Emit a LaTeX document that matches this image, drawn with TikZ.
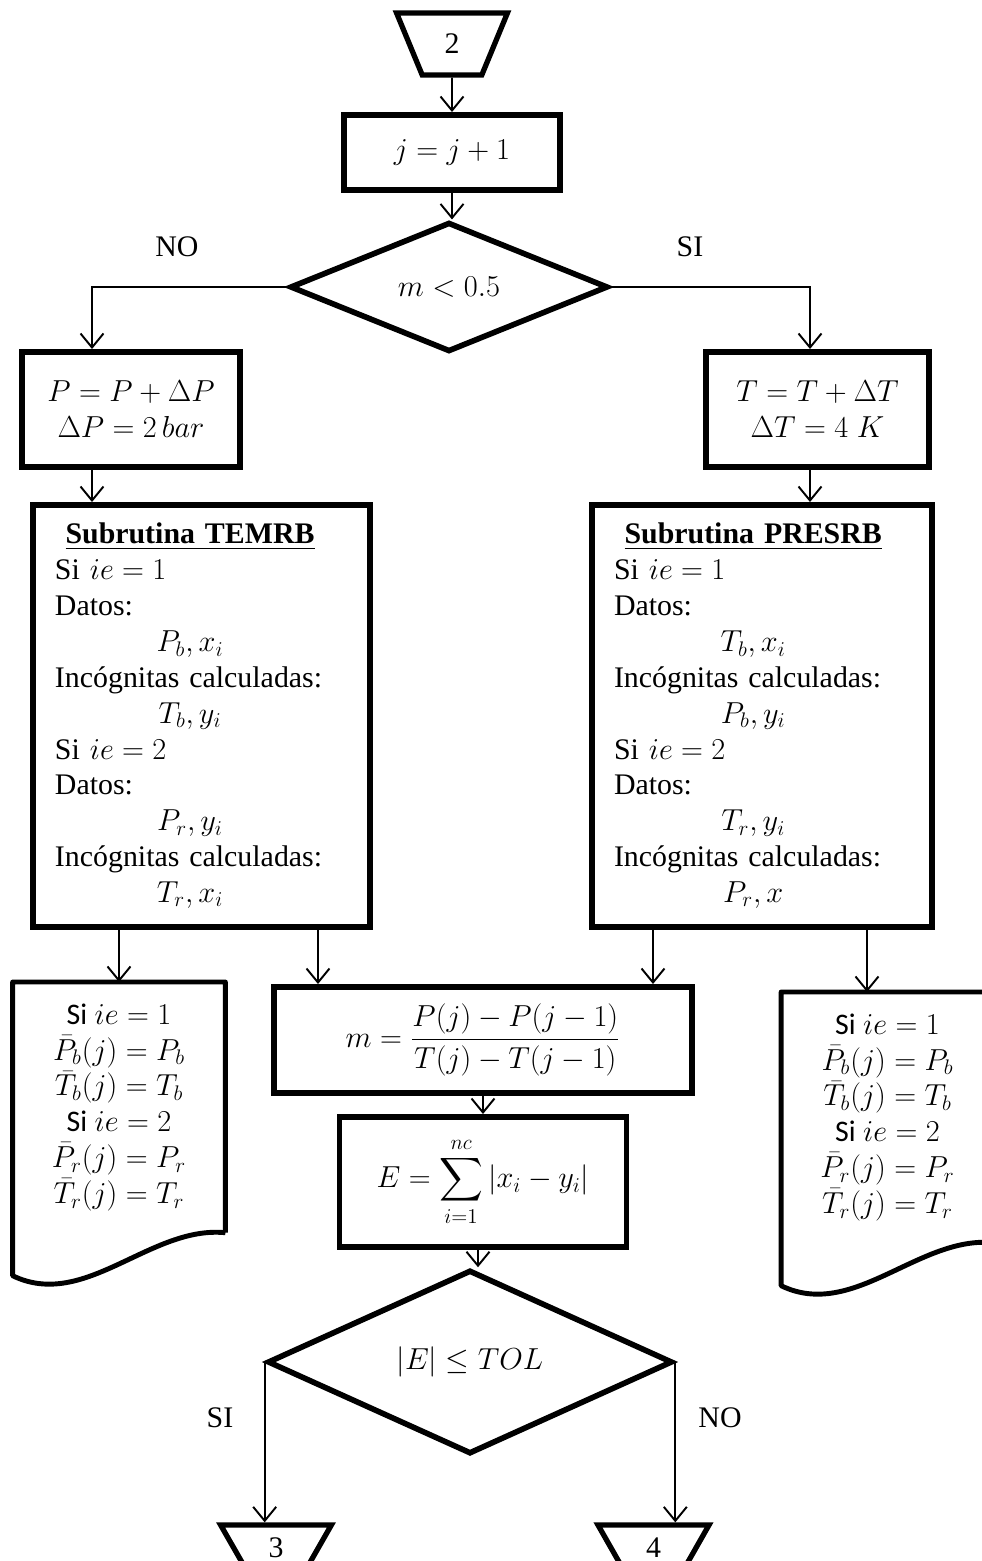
\documentclass[tikz,border=0pt]{standalone}
\usepackage{amsmath}
\usepackage{fontspec}
\setmainfont{Liberation Serif}
\newfontfamily\calibri{Carlito}
\usetikzlibrary{shapes.geometric, arrows.meta, positioning}

\begin{document}
\begin{tikzpicture}[
    every node/.style={font=\fontsize{17}{20.4}\selectfont},
    box/.style={rectangle, draw, line width=3.4pt, align=center},
    subbox/.style={rectangle, draw, line width=3.4pt, align=left, text width=5.86cm, inner xsep=0.44cm, minimum height=8.44cm},
    decision/.style={diamond, draw, line width=3.2pt, minimum height=2.46cm, inner sep=1pt},
    conn/.style={trapezium, draw, line width=3pt, trapezium angle=70, shape border rotate=180, trapezium stretches=true, minimum width=2.22cm, minimum height=1.24cm},
    doc/.style={align=center, minimum width=4.24cm, minimum height=5cm, anchor=north},
    docline/.style={line width=2.8pt, line join=round},
    arrow/.style={line width=1.1pt, -{Straight Barb[length=0.28cm, width=0.46cm]}}
]
\useasboundingbox (0,0) rectangle (19.64,-31.22);

% ---- kolom atas ----
\node[conn]                          (c2)    at (9.04,-0.88)  {2};
\node[box, minimum width=4.32cm, minimum height=1.5cm] (jbox) at (9.04,-3.05) {$j = j + 1$};
\node[decision, minimum width=6.36cm] (d1)   at (8.98,-5.74)  {$m < 0.5$};
\node                                (no1)   at (3.54,-4.94)  {NO};
\node                                (si1)   at (13.8,-4.94)  {SI};

% ---- dua cabang ----
\node[box, minimum width=4.36cm, minimum height=2.3cm] (pbox) at (2.62,-8.19)
    {$P = P + \Delta P$\\$\Delta P = 2\,bar$};
\node[box, minimum width=4.46cm, minimum height=2.3cm] (tbox) at (16.35,-8.19)
    {$T = T + \Delta T$\\$\Delta T = 4\;K$};

\node[subbox] (temrb) at (4.03,-14.32) {%
\begin{tabular}{@{}l@{}}
\multicolumn{1}{c}{\textbf{\underline{Subrutina TEMRB}}}\\
Si $ie = 1$\\
Datos:\\
\multicolumn{1}{c}{$P_b, x_i$}\\
Incógnitas calculadas:\\
\multicolumn{1}{c}{$T_b, y_i$}\\
Si $ie = 2$\\
Datos:\\
\multicolumn{1}{c}{$P_r, y_i$}\\
Incógnitas calculadas:\\
\multicolumn{1}{c}{$T_r, x_i$}
\end{tabular}};
\node[subbox, text width=5.92cm] (presrb) at (15.24,-14.32) {%
\begin{tabular}{@{}l@{}}
\multicolumn{1}{c}{\textbf{\underline{Subrutina PRESRB}}}\\
Si $ie = 1$\\
Datos:\\
\multicolumn{1}{c}{$T_b, x_i$}\\
Incógnitas calculadas:\\
\multicolumn{1}{c}{$P_b, y_i$}\\
Si $ie = 2$\\
Datos:\\
\multicolumn{1}{c}{$T_r, y_i$}\\
Incógnitas calculadas:\\
\multicolumn{1}{c}{$P_r, x$}
\end{tabular}};

% ---- dokumen keluaran ----
\node[doc] (docL) at (2.38,-19.64)
    {{\calibri Si} $ie = 1$\\$\bar{P}_b(j) = P_b$\\$\bar{T}_b(j) = T_b$\\{\calibri Si} $ie = 2$\\$\bar{P}_r(j) = P_r$\\$\bar{T}_r(j) = T_r$};
\node[doc] (docR) at (17.75,-19.84)
    {{\calibri Si} $ie = 1$\\$\bar{P}_b(j) = P_b$\\$\bar{T}_b(j) = T_b$\\{\calibri Si} $ie = 2$\\$\bar{P}_r(j) = P_r$\\$\bar{T}_r(j) = T_r$};
\draw[docline] (docL.south east) -- (docL.north east) -- (docL.north west) -- ([yshift=-0.86cm]docL.south west)
    .. controls +(1.44,-0.7) and +(-1.5,0.15) .. (docL.south east);
\draw[docline] (docR.south east) -- (docR.north east) -- (docR.north west) -- ([yshift=-0.86cm]docR.south west)
    .. controls +(1.44,-0.7) and +(-1.5,0.15) .. (docR.south east);

% ---- kolom bawah ----
\node[box, minimum width=8.36cm, minimum height=2.12cm] (mbox) at (9.66,-20.8)
    {$m = \dfrac{P(j) - P(j-1)}{T(j) - T(j-1)}$};
\node[box, minimum width=5.74cm, minimum height=2.6cm] (ebox) at (9.66,-23.64)
    {$\displaystyle E = \sum_{i=1}^{nc} |x_i - y_i|$};
\node[decision, minimum width=8.1cm] (d2) at (9.4,-27.24) {$|E| \leq TOL$};
\node (si2) at (4.4,-28.36)  {SI};
\node (no2) at (14.4,-28.36) {NO};
\node[conn, minimum height=0.9cm] (c3) at (5.52,-30.95)  {3};
\node[conn, minimum height=0.9cm] (c4) at (13.07,-30.95) {4};

% ---- alur ----
\draw[arrow] (c2) -- (jbox);
\draw[arrow] (jbox) -- (jbox |- d1.north);
\draw[arrow] (d1.west) -| ([xshift=-0.78cm]pbox.north);
\draw[arrow] (d1.east) -| ([xshift=-0.15cm]tbox.north);
\draw[arrow] ([xshift=-0.78cm]pbox.south) -- ([xshift=-0.78cm]pbox.south |- temrb.north);
\draw[arrow] ([xshift=-0.15cm]tbox.south) -- ([xshift=-0.15cm]tbox.south |- presrb.north);
\draw[arrow] (docL.north |- temrb.south) -- (docL.north);
\draw[arrow] ([xshift=2.33cm]temrb.south) -- ([xshift=2.33cm]temrb.south |- mbox.north);
\draw[arrow] ([xshift=-2.18cm]presrb.south) -- ([xshift=-2.18cm]presrb.south |- mbox.north);
\draw[arrow] ([xshift=2.1cm]presrb.south) -- ([xshift=2.1cm]presrb.south |- docR.north);
\draw[arrow] (mbox) -- (ebox);
\draw[arrow] ([xshift=-0.1cm]ebox.south) -- ([xshift=-0.1cm]ebox.south |- d2.north);
\draw[arrow] (d2.west) -- (d2.west |- c3.north);
\draw[arrow] (d2.east) -- (d2.east |- c4.north);

\end{tikzpicture}
\end{document}
